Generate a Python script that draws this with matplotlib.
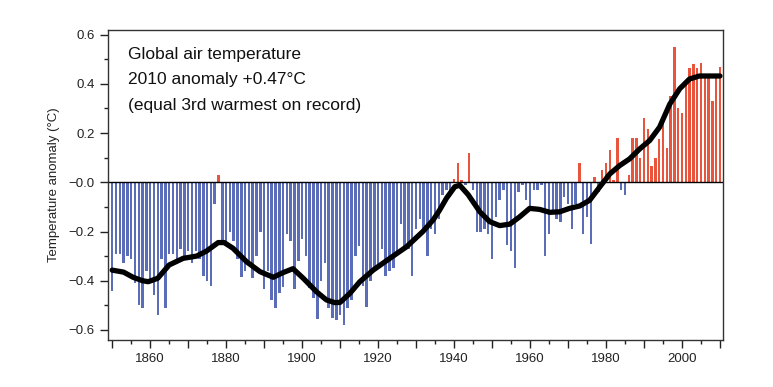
import numpy as np
import matplotlib
matplotlib.use('Agg')
import matplotlib.pyplot as plt
from matplotlib.ticker import MultipleLocator, FixedLocator

plt.rcParams['font.family'] = ['Liberation Sans', 'DejaVu Sans']

# annual anomalies (deg C), 1850-2010
years = np.arange(1850, 2011)
anomaly = [
    -0.44, -0.29, -0.29, -0.33, -0.30, -0.31, -0.41, -0.50, -0.51, -0.36,  # 1850s
    -0.40, -0.46, -0.54, -0.31, -0.51, -0.29, -0.29, -0.32, -0.27, -0.30,  # 1860s
    -0.28, -0.33, -0.28, -0.31, -0.38, -0.40, -0.42, -0.09, 0.03, -0.25,   # 1870s
    -0.26, -0.20, -0.24, -0.31, -0.385, -0.36, -0.33, -0.39, -0.30, -0.20, # 1880s
    -0.435, -0.36, -0.48, -0.51, -0.45, -0.425, -0.21, -0.24, -0.435, -0.32,  # 1890s
    -0.23, -0.30, -0.43, -0.47, -0.555, -0.40, -0.33, -0.51, -0.55, -0.56,  # 1900s
    -0.54, -0.58, -0.51, -0.48, -0.30, -0.26, -0.42, -0.505, -0.40, -0.36,  # 1910s
    -0.35, -0.27, -0.38, -0.36, -0.35, -0.29, -0.17, -0.27, -0.27, -0.38,  # 1920s
    -0.19, -0.15, -0.20, -0.30, -0.19, -0.21, -0.15, -0.05, -0.03, -0.06,  # 1930s
    0.015, 0.08, 0.01, -0.01, 0.12, -0.03, -0.20, -0.20, -0.19, -0.21,    # 1940s
    -0.31, -0.14, -0.07, -0.03, -0.255, -0.28, -0.35, -0.04, -0.01, -0.07,  # 1950s
    -0.10, -0.03, -0.03, -0.01, -0.30, -0.21, -0.13, -0.15, -0.16, -0.06,  # 1960s
    -0.09, -0.19, -0.09, 0.08, -0.21, -0.14, -0.25, 0.02, -0.04, 0.05,    # 1970s
    0.08, 0.13, 0.01, 0.18, -0.03, -0.05, 0.03, 0.18, 0.18, 0.10,         # 1980s
    0.26, 0.215, 0.065, 0.10, 0.175, 0.26, 0.14, 0.35, 0.55, 0.30,        # 1990s
    0.28, 0.41, 0.465, 0.48, 0.465, 0.485, 0.44, 0.425, 0.33, 0.44,       # 2000s
    0.47,                                                                 # 2010
]
anomaly = np.array(anomaly)

# smoothed curve
smooth_years = [1850, 1853, 1855.5, 1858, 1859.5, 1862, 1865, 1868.7, 1872.2, 1874.8,
                1877.9, 1879.5, 1881.8, 1885.4, 1888.9, 1892.4, 1895, 1897.6, 1900.3,
                1903.8, 1906.4, 1908.6, 1910, 1912.6, 1915.2, 1918.7, 1923.1, 1927.5,
                1931.8, 1934.5, 1936.2, 1938, 1940.2, 1941.5, 1943.7, 1946.8, 1949.4,
                1952, 1954.7, 1957.3, 1959.9, 1962.5, 1965.2, 1967.8, 1970.4, 1973.1,
                1975.7, 1978.3, 1981, 1983.6, 1986.2, 1988.9, 1991.5, 1994.1, 1996.8,
                1999.4, 2002, 2004.6, 2007.2, 2010]
smooth_vals = [-0.357, -0.365, -0.386, -0.40, -0.404, -0.39, -0.336, -0.309, -0.30, -0.28,
               -0.245, -0.245, -0.268, -0.323, -0.363, -0.386, -0.367, -0.351, -0.39,
               -0.445, -0.478, -0.489, -0.488, -0.451, -0.404, -0.357, -0.309, -0.262,
               -0.20, -0.153, -0.113, -0.065, -0.018, -0.012, -0.05, -0.12, -0.16,
               -0.176, -0.17, -0.14, -0.106, -0.11, -0.122, -0.12, -0.106, -0.096,
               -0.073, -0.02, 0.034, 0.068, 0.095, 0.136, 0.17, 0.224, 0.318,
               0.38, 0.42, 0.432, 0.432, 0.432]

note_lines = ['Global air temperature',
              '2010 anomaly +0.47°C',
              '(equal 3rd warmest on record)']

fig = plt.figure(figsize=(7.73, 3.87), dpi=100)
ax = fig.add_axes([0.1397, 0.1214, 0.7956, 0.8011])

colors = np.where(anomaly >= 0, '#e8543c', '#5b6cb8')
ax.bar(years, anomaly, width=0.65, color=colors, linewidth=0)
ax.axhline(0, color='black', lw=1.0)
ax.plot(smooth_years, smooth_vals, color='black', lw=3.8,
        solid_joinstyle='round', solid_capstyle='round')

ax.set_xlim(1848.9, 2010.8)
ax.set_ylim(-0.641, 0.619)

ax.set_xticks(np.arange(1850, 2011, 10))
ax.set_xticklabels([str(y) if y % 20 == 0 else '' for y in range(1850, 2011, 10)])
ax.xaxis.set_minor_locator(MultipleLocator(5))
ax.yaxis.set_major_locator(FixedLocator([-0.6, -0.4, -0.2, 0.0, 0.2, 0.4, 0.6]))
ax.yaxis.set_minor_locator(MultipleLocator(0.1))
ax.set_yticklabels(['\u22120.6', '\u22120.4', '\u22120.2', '\u22120.0', '0.2', '0.4', '0.6'])

ax.tick_params(which='major', direction='out', length=6, width=1, labelsize=9.5,
               color='#222222', labelcolor='#222222')
ax.tick_params(which='minor', direction='out', length=3, width=1, color='#222222')
ax.set_ylabel('Temperature anomaly (°C)', fontsize=9.5, color='#222222', labelpad=6)

for s in ax.spines.values():
    s.set_linewidth(1.0)
    s.set_color('#333333')

for i, line in enumerate(note_lines):
    ax.text(0.033, 0.92 - i * 0.081, line, transform=ax.transAxes,
            fontsize=12.5, va='center', ha='left', color='#111111')

fig.savefig('out.png', dpi=100)
